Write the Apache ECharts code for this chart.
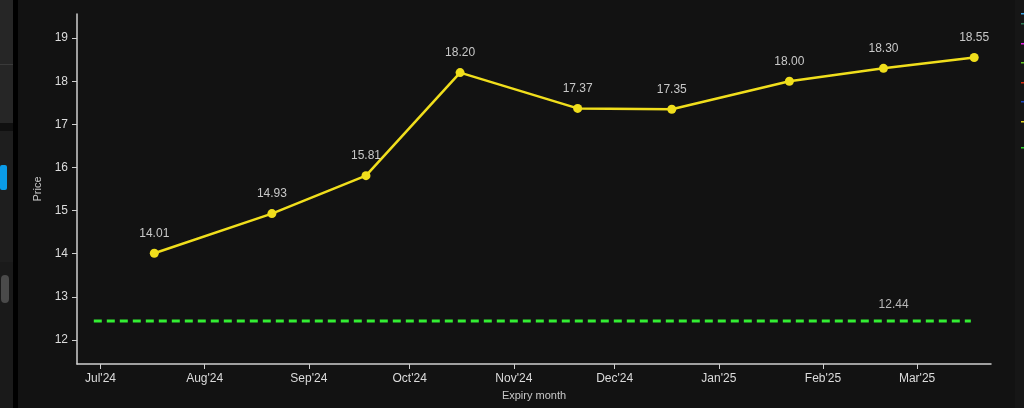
<!DOCTYPE html>
<html>
<head>
<meta charset="utf-8">
<script src="https://cdn.jsdelivr.net/npm/echarts@6/dist/echarts.min.js"></script>
<style>
html,body{margin:0;padding:0;background:#121212;}
#c{width:1024px;height:408px;}
</style>
</head>
<body>
<div id="c"></div>
<script>
// ---- data ----
var expiryDates = ['2024-07-17','2024-08-21','2024-09-18','2024-10-16','2024-11-20','2024-12-18','2025-01-22','2025-02-19','2025-03-18'];
var futurePrices = [14.01, 14.93, 15.81, 18.20, 17.37, 17.35, 18.00, 18.30, 18.55];
var spotDates = ['2024-06-29','2025-02-22','2025-03-17'];
var spotValues = [12.44, 12.44, 12.44];
var spotLabelIndex = 1;
var monthTicks = ['2024-07-01','2024-08-01','2024-09-01','2024-10-01','2024-11-01','2024-12-01','2025-01-01','2025-02-01','2025-03-01'];
var monthLabels = ["Jul'24","Aug'24","Sep'24","Oct'24","Nov'24","Dec'24","Jan'25","Feb'25","Mar'25"];
var priceTicks = [12, 13, 14, 15, 16, 17, 18, 19];
var axisRange = {xMin: '2024-06-24', xMax: '2025-03-23', yMin: 11.44, yMax: 19.56};

function ts(d){ var p = d.split('-'); return Date.UTC(+p[0], +p[1]-1, +p[2]); }
var tickTs = monthTicks.map(ts);

var chart = echarts.init(document.getElementById('c'), null, {renderer:'canvas'});
var font = "'Liberation Sans', Arial, sans-serif";

var legendColors = ['#3a9fdc','#2a7a50','#e020e0','#5fc020','#d02a10','#1a44c0','#e0d020','#30d030'];
var legendYs = [13, 23, 43, 62, 82, 101, 121, 147];
var graphics = [
  {type:'rect', shape:{x:0,y:0,width:13,height:408}, style:{fill:'#1e1e1e'}, z:-1},
  {type:'rect', shape:{x:0,y:0,width:13,height:123}, style:{fill:'#262626'}},
  {type:'rect', shape:{x:0,y:64,width:13,height:1}, style:{fill:'#3a3a3a'}},
  {type:'rect', shape:{x:0,y:123,width:13,height:8}, style:{fill:'#101010'}},
  {type:'rect', shape:{x:0,y:165,width:7,height:25,r:2}, style:{fill:'#0a9be8'}},
  {type:'rect', shape:{x:0,y:262,width:13,height:146}, style:{fill:'#1a1a1a'}},
  {type:'rect', shape:{x:1,y:275,width:8,height:28,r:4}, style:{fill:'#4a4a4a'}},
  {type:'rect', shape:{x:13,y:0,width:5,height:408}, style:{fill:'#000000'}},
  {type:'rect', shape:{x:1015,y:0,width:9,height:408}, style:{fill:'#161616'}}
];
for (var i=0;i<legendColors.length;i++){
  graphics.push({type:'rect', shape:{x:1021,y:legendYs[i],width:3,height:1.5}, style:{fill:legendColors[i]}});
}

chart.setOption({
  backgroundColor:'#121212',
  animation:false,
  graphic: graphics,
  grid:{left:77, right:33, top:14, bottom:44, containLabel:false},
  xAxis:{
    type:'value',
    min: ts(axisRange.xMin), max: ts(axisRange.xMax),
    name:'Expiry month', nameLocation:'middle', nameGap:26,
    nameTextStyle:{color:'#c8c8c8', fontSize:11, fontFamily:font},
    axisLine:{show:true, lineStyle:{color:'#cfcfcf', width:1.5}},
    axisTick:{show:true, length:5, lineStyle:{color:'#cfcfcf'}, customValues: tickTs},
    axisLabel:{color:'#dcdcdc', fontSize:12, fontFamily:font, margin:9, customValues: tickTs,
      formatter:function(v){ var i = tickTs.indexOf(v); return i>=0 ? monthLabels[i] : ''; }},
    splitLine:{show:false}
  },
  yAxis:{
    type:'value',
    min: axisRange.yMin, max: axisRange.yMax,
    name:'Price', nameLocation:'middle', nameGap:33, nameRotate:90,
    nameTextStyle:{color:'#c8c8c8', fontSize:11, fontFamily:font},
    axisLine:{show:true, lineStyle:{color:'#cfcfcf', width:1.5}},
    axisTick:{show:true, length:5, lineStyle:{color:'#cfcfcf'}, customValues: priceTicks},
    axisLabel:{color:'#dcdcdc', fontSize:12, fontFamily:font, margin:9, customValues: priceTicks},
    splitLine:{show:false}
  },
  series:[
    {
      type:'line',
      data: expiryDates.map(function(d,i){ return [ts(d), futurePrices[i]]; }),
      symbol:'circle', symbolSize:9,
      lineStyle:{color:'#f0de1c', width:2.5},
      itemStyle:{color:'#f0de1c'},
      label:{show:true, position:'top', distance:9, color:'#c8c8c8', fontSize:12, fontFamily:font,
        formatter:function(p){ return p.value[1].toFixed(2); }},
      z:3
    },
    {
      type:'line',
      data: spotDates.map(function(d,i){
        return {value:[ts(d), spotValues[i]], label:{show: i===spotLabelIndex}};
      }),
      symbol:'circle', symbolSize:1, showSymbol:true,
      lineStyle:{color:'#33ee33', width:3, type:[8,5]},
      itemStyle:{color:'rgba(0,0,0,0)'},
      label:{show:false, position:'top', distance:10, color:'#b8b8b8', opacity:1, fontSize:12, fontFamily:font,
        formatter:function(p){ return p.value[1].toFixed(2); }},
      z:2
    }
  ]
});
</script>
</body>
</html>
